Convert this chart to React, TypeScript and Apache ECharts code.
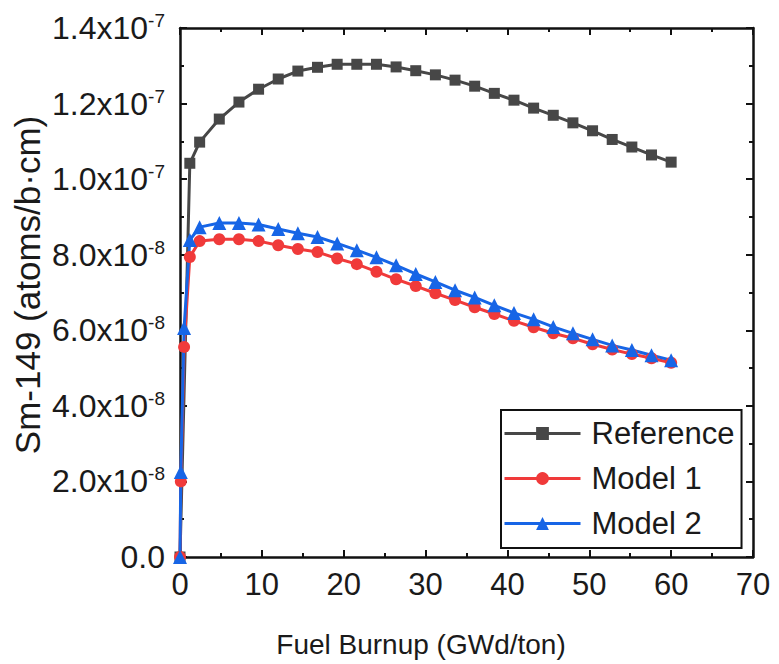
import React, { useEffect, useRef } from "react";
import * as echarts from "echarts";

// Fuel burnup (GWd/ton)
const burnupRef = [0, 1.2, 2.4, 4.8, 7.2, 9.6, 12, 14.4, 16.8, 19.2, 21.6, 24, 26.4, 28.8, 31.2, 33.6, 36, 38.4, 40.8, 43.2, 45.6, 48, 50.4, 52.8, 55.2, 57.6, 60];
const burnupModel = [0, 0.1, 0.5, 1.2, 2.4, 4.8, 7.2, 9.6, 12, 14.4, 16.8, 19.2, 21.6, 24, 26.4, 28.8, 31.2, 33.6, 36, 38.4, 40.8, 43.2, 45.6, 48, 50.4, 52.8, 55.2, 57.6, 60];

// Sm-149 number density (atoms/b·cm)
const referenceSm = [0, 10.42e-8, 10.98e-8, 11.59e-8, 12.04e-8, 12.38e-8, 12.65e-8, 12.86e-8, 12.96e-8, 13.04e-8, 13.04e-8, 13.04e-8, 12.97e-8, 12.87e-8, 12.76e-8, 12.62e-8, 12.46e-8, 12.27e-8, 12.09e-8, 11.88e-8, 11.69e-8, 11.49e-8, 11.28e-8, 11.05e-8, 10.85e-8, 10.64e-8, 10.45e-8];
const model1Sm = [0, 2.0e-8, 5.56e-8, 7.94e-8, 8.36e-8, 8.41e-8, 8.41e-8, 8.36e-8, 8.25e-8, 8.15e-8, 8.07e-8, 7.9e-8, 7.75e-8, 7.55e-8, 7.35e-8, 7.17e-8, 6.98e-8, 6.8e-8, 6.61e-8, 6.43e-8, 6.25e-8, 6.08e-8, 5.92e-8, 5.79e-8, 5.63e-8, 5.49e-8, 5.37e-8, 5.26e-8, 5.14e-8];
const model2Sm = [0, 2.25e-8, 6.06e-8, 8.39e-8, 8.73e-8, 8.84e-8, 8.84e-8, 8.8e-8, 8.68e-8, 8.57e-8, 8.47e-8, 8.3e-8, 8.12e-8, 7.93e-8, 7.72e-8, 7.49e-8, 7.28e-8, 7.06e-8, 6.87e-8, 6.66e-8, 6.46e-8, 6.29e-8, 6.09e-8, 5.92e-8, 5.76e-8, 5.6e-8, 5.48e-8, 5.34e-8, 5.21e-8];

const seriesNames = ["Reference", "Model 1", "Model 2"];
const xAxisTitle = "Fuel Burnup (GWd/ton)";
const yAxisTitle = "Sm-149 (atoms/b·cm)";

const FONT = "'Liberation Sans', Arial, sans-serif";
const TEXT = "#1a1a1a";

function pairs(xs: number[], ys: number[]) {
  return xs.map((x, i) => [x, ys[i]]);
}

function sciLabel(v: number) {
  if (Math.abs(v) < 1e-20) return "{m|0.0}";
  const e = Math.floor(Math.log10(Math.abs(v)) + 1e-6);
  const m = v / Math.pow(10, e);
  return `{m|${m.toFixed(1)}x10}{s|${e}}`;
}

export default function App() {
  const ref = useRef<HTMLDivElement>(null);
  useEffect(() => {
    if (!ref.current) return;
    const chart = echarts.init(ref.current, undefined, { renderer: "svg" });
    const axisLine = { show: true, onZero: false, lineStyle: { color: "#111", width: 2.5 } };
    const xCommon = {
      type: "value" as const,
      min: 0,
      max: 70,
      interval: 10,
      splitLine: { show: false },
      axisLine,
      axisTick: { inside: true, length: 7, lineStyle: { color: "#111", width: 2 } },
      minorTick: { show: true, splitNumber: 2, length: 4, lineStyle: { color: "#111", width: 2 } },
    };
    const yCommon = {
      type: "value" as const,
      min: 0,
      max: 1.4e-7,
      interval: 2e-8,
      splitLine: { show: false },
      axisLine,
      axisTick: { inside: true, length: 7, lineStyle: { color: "#111", width: 2 } },
      minorTick: { show: true, splitNumber: 2, length: 4, lineStyle: { color: "#111", width: 2 } },
    };
    chart.setOption({
      animation: false,
      backgroundColor: "#fff",
      grid: { left: 180, right: 26, top: 28, bottom: 107, containLabel: false },
      xAxis: [
        {
          ...xCommon,
          position: "bottom",
          axisLabel: { show: true, margin: 12, fontSize: 31, color: TEXT, fontFamily: FONT },
        },
        { ...xCommon, position: "top", axisLabel: { show: false } },
      ],
      yAxis: [
        {
          ...yCommon,
          position: "left",
          axisLabel: {
            show: true,
            margin: 15,
            formatter: sciLabel,
            rich: {
              m: { fontSize: 32, color: TEXT, fontFamily: FONT, lineHeight: 34 },
              s: { fontSize: 19, color: TEXT, fontFamily: FONT, lineHeight: 19, verticalAlign: "top" },
            },
          },
        },
        { ...yCommon, position: "right", axisLabel: { show: false } },
      ],
      legend: {
        left: 501,
        top: 410,
        orient: "vertical",
        padding: [8, 7, 9, 2],
        itemGap: 14,
        itemWidth: 76,
        itemHeight: 16,
        borderColor: "#111",
        borderWidth: 2,
        backgroundColor: "#fff",
        lineStyle: { width: 3 },
        textStyle: { fontSize: 31, color: TEXT, fontFamily: FONT, padding: [0, 0, 0, 6] },
        data: seriesNames,
      },
      series: [
        {
          name: seriesNames[0],
          type: "line",
          data: pairs(burnupRef, referenceSm),
          symbol: "rect",
          symbolSize: 11,
          color: "#474747",
          lineStyle: { width: 3, color: "#474747" },
          itemStyle: { color: "#474747" },
        },
        {
          name: seriesNames[1],
          type: "line",
          data: pairs(burnupModel, model1Sm),
          symbol: "circle",
          symbolSize: 12,
          color: "#f03a3a",
          lineStyle: { width: 3, color: "#f03a3a" },
          itemStyle: { color: "#f03a3a" },
        },
        {
          name: seriesNames[2],
          type: "line",
          data: pairs(burnupModel, model2Sm),
          symbol: "triangle",
          symbolSize: 14,
          color: "#1765e6",
          lineStyle: { width: 3, color: "#1765e6" },
          itemStyle: { color: "#1765e6" },
        },
      ],
      graphic: [
        {
          type: "text",
          x: 421,
          y: 644,
          style: { text: xAxisTitle, fontSize: 28, fill: TEXT, fontFamily: FONT, align: "center", verticalAlign: "middle" },
        },
        {
          type: "text",
          x: 27,
          y: 285,
          rotation: Math.PI / 2,
          style: { text: yAxisTitle, fontSize: 35, fill: TEXT, fontFamily: FONT, align: "center", verticalAlign: "middle" },
        },
      ],
    });
    return () => chart.dispose();
  }, []);
  return <div ref={ref} style={{ position: "fixed", left: 0, top: 0, width: 779, height: 664 }} />;
}
